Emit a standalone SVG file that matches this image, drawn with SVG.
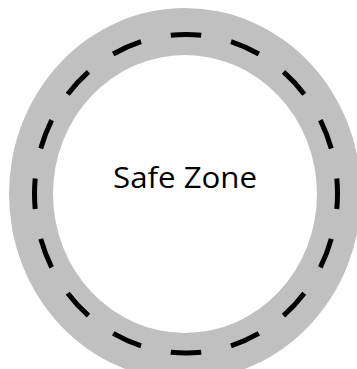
<svg xmlns="http://www.w3.org/2000/svg" width="357" height="369" viewBox="0 0 357 369">
  <style>
    .road { fill: #c0c0c0; fill-rule: evenodd; }
    .lane { fill: none; stroke: #000; stroke-width: 5; stroke-dasharray: 0.5 0.5; stroke-dashoffset: 0.25; }
    .label { font-family: "Open Sans", "Liberation Sans", Arial, sans-serif; font-size: 29px; fill: #000; text-anchor: middle; }
  </style>
  <rect x="0" y="0" width="357" height="369" fill="#fff"/>
  <g id="ring">
    <path class="road" d="M 9 194 A 176 186 0 1 0 361 194 A 176 186 0 1 0 9 194 Z M 53 194 A 132 139 0 1 0 317 194 A 132 139 0 1 0 53 194 Z"/>
    <ellipse class="lane" cx="186" cy="193.7" rx="151.5" ry="159.3" pathLength="16"/>
  </g>
  <g id="safe-zone">
    <text class="label" x="185" y="188" textLength="144" lengthAdjust="spacingAndGlyphs">Safe Zone</text>
  </g>
</svg>
